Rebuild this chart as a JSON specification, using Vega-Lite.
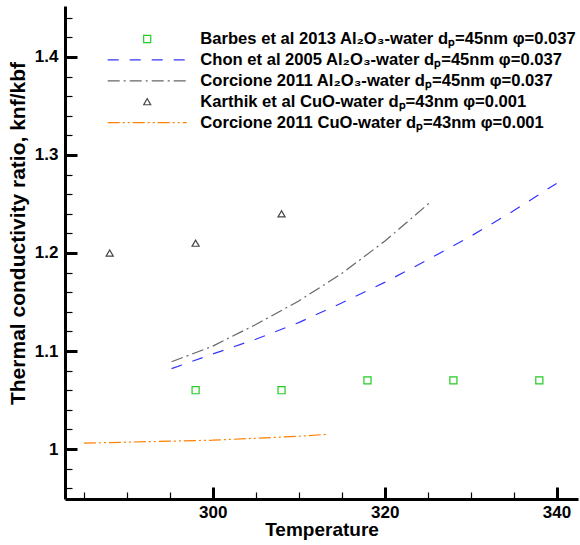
{
  "$schema": "https://vega.github.io/schema/vega-lite/v6.json",
  "autosize": {"type": "none"},
  "padding": {"left": 65, "top": 6, "right": 2, "bottom": 46},
  "width": 513,
  "height": 493,
  "background": "white",
  "config": {
    "view": {"stroke": null},
    "font": "Liberation Sans",
    "axis": {
      "grid": false,
      "domainColor": "black",
      "domainWidth": 3,
      "tickColor": "black",
      "labelFont": "Liberation Sans",
      "labelFontWeight": "bold",
      "labelFontSize": 17,
      "labelColor": "black",
      "titleFont": "Liberation Sans",
      "titleFontWeight": "bold",
      "titleFontSize": 20,
      "titleColor": "black"
    },
    "legend": {
      "labelFont": "Liberation Sans",
      "labelFontWeight": "bold",
      "labelFontSize": 16.6,
      "labelColor": "black",
      "labelLimit": 600
    }
  },
  "data": {
    "values": [
      {"series": "Barbes et al 2013 Al₂O₃-water dₚ=45nm φ=0.037", "T": 298, "k": 1.06},
      {"series": "Barbes et al 2013 Al₂O₃-water dₚ=45nm φ=0.037", "T": 308, "k": 1.06},
      {"series": "Barbes et al 2013 Al₂O₃-water dₚ=45nm φ=0.037", "T": 318, "k": 1.07},
      {"series": "Barbes et al 2013 Al₂O₃-water dₚ=45nm φ=0.037", "T": 328, "k": 1.07},
      {"series": "Barbes et al 2013 Al₂O₃-water dₚ=45nm φ=0.037", "T": 338, "k": 1.07},
      {"series": "Karthik et al CuO-water dₚ=43nm φ=0.001", "T": 288, "k": 1.20},
      {"series": "Karthik et al CuO-water dₚ=43nm φ=0.001", "T": 298, "k": 1.21},
      {"series": "Karthik et al CuO-water dₚ=43nm φ=0.001", "T": 308, "k": 1.24},
      {"series": "Chon et al 2005 Al₂O₃-water dₚ=45nm φ=0.037", "T": 295.2, "k": 1.082},
      {"series": "Chon et al 2005 Al₂O₃-water dₚ=45nm φ=0.037", "T": 300, "k": 1.097},
      {"series": "Chon et al 2005 Al₂O₃-water dₚ=45nm φ=0.037", "T": 305, "k": 1.112},
      {"series": "Chon et al 2005 Al₂O₃-water dₚ=45nm φ=0.037", "T": 310, "k": 1.129},
      {"series": "Chon et al 2005 Al₂O₃-water dₚ=45nm φ=0.037", "T": 315, "k": 1.149},
      {"series": "Chon et al 2005 Al₂O₃-water dₚ=45nm φ=0.037", "T": 320, "k": 1.170},
      {"series": "Chon et al 2005 Al₂O₃-water dₚ=45nm φ=0.037", "T": 325, "k": 1.193},
      {"series": "Chon et al 2005 Al₂O₃-water dₚ=45nm φ=0.037", "T": 330, "k": 1.217},
      {"series": "Chon et al 2005 Al₂O₃-water dₚ=45nm φ=0.037", "T": 335, "k": 1.243},
      {"series": "Chon et al 2005 Al₂O₃-water dₚ=45nm φ=0.037", "T": 340, "k": 1.271},
      {"series": "Corcione 2011 Al₂O₃-water dₚ=45nm φ=0.037", "T": 295.2, "k": 1.089},
      {"series": "Corcione 2011 Al₂O₃-water dₚ=45nm φ=0.037", "T": 300, "k": 1.105},
      {"series": "Corcione 2011 Al₂O₃-water dₚ=45nm φ=0.037", "T": 305, "k": 1.127},
      {"series": "Corcione 2011 Al₂O₃-water dₚ=45nm φ=0.037", "T": 310, "k": 1.151},
      {"series": "Corcione 2011 Al₂O₃-water dₚ=45nm φ=0.037", "T": 315, "k": 1.179},
      {"series": "Corcione 2011 Al₂O₃-water dₚ=45nm φ=0.037", "T": 320, "k": 1.212},
      {"series": "Corcione 2011 Al₂O₃-water dₚ=45nm φ=0.037", "T": 325.2, "k": 1.251},
      {"series": "Corcione 2011 CuO-water dₚ=43nm φ=0.001", "T": 285, "k": 1.006},
      {"series": "Corcione 2011 CuO-water dₚ=43nm φ=0.001", "T": 290, "k": 1.007},
      {"series": "Corcione 2011 CuO-water dₚ=43nm φ=0.001", "T": 295, "k": 1.008},
      {"series": "Corcione 2011 CuO-water dₚ=43nm φ=0.001", "T": 300, "k": 1.009},
      {"series": "Corcione 2011 CuO-water dₚ=43nm φ=0.001", "T": 305, "k": 1.011},
      {"series": "Corcione 2011 CuO-water dₚ=43nm φ=0.001", "T": 310, "k": 1.013},
      {"series": "Corcione 2011 CuO-water dₚ=43nm φ=0.001", "T": 313.3, "k": 1.015}
    ]
  },
  "encoding": {
    "x": {
      "field": "T", "type": "quantitative",
      "scale": {"domain": [282.8, 342.5], "nice": false, "zero": false},
      "axis": {
        "title": "Temperature",
        "titleFontSize": 19,
        "values": [285, 290, 295, 300, 305, 310, 315, 320, 325, 330, 335, 340],
        "labelExpr": "datum.value % 20 === 0 ? datum.label : ''",
        "tickSize": {"condition": {"test": "datum.value % 20 === 0", "value": -12}, "value": -7},
        "tickWidth": {"condition": {"test": "datum.value % 20 === 0", "value": 3}, "value": 1.2},
        "labelPadding": 17,
        "labelFlush": false,
        "titlePadding": 0
      }
    },
    "y": {
      "field": "k", "type": "quantitative",
      "scale": {"domain": [0.949, 1.452], "nice": false, "zero": false},
      "axis": {
        "title": "Thermal conductivity ratio, knf/kbf",
        "titleFontSize": 21,
        "titleY": 227,
        "values": [0.96, 0.98, 1.0, 1.02, 1.04, 1.06, 1.08, 1.1, 1.12, 1.14, 1.16, 1.18, 1.2, 1.22, 1.24, 1.26, 1.28, 1.3, 1.32, 1.34, 1.36, 1.38, 1.4, 1.42, 1.44],
        "labelExpr": "abs(datum.value*10 - round(datum.value*10)) < 1e-6 ? format(datum.value, '.1~f') : ''",
        "tickSize": {"condition": {"test": "abs(datum.value*10 - round(datum.value*10)) < 1e-6", "value": -12}, "value": -7},
        "tickWidth": {"condition": {"test": "abs(datum.value*10 - round(datum.value*10)) < 1e-6", "value": 3}, "value": 1.2},
        "labelPadding": 19,
        "labelFlush": false,
        "titlePadding": 6
      }
    },
    "color": {
      "field": "series", "type": "nominal",
      "scale": {
        "domain": [
          "Barbes et al 2013 Al₂O₃-water dₚ=45nm φ=0.037",
          "Chon et al 2005 Al₂O₃-water dₚ=45nm φ=0.037",
          "Corcione 2011 Al₂O₃-water dₚ=45nm φ=0.037",
          "Karthik et al CuO-water dₚ=43nm φ=0.001",
          "Corcione 2011 CuO-water dₚ=43nm φ=0.001"
        ],
        "range": ["#22cc22", "#3333ff", "#666666", "#444444", "#ff8000"]
      },
      "legend": {
        "title": null,
        "orient": "none",
        "legendX": 41.7,
        "legendY": 23.5,
        "padding": 0,
        "clipHeight": 19,
        "rowPadding": 1.9,
        "labelOffset": 12.6,
        "symbolStrokeWidth": 1.2
      }
    }
  },
  "layer": [
    {
      "transform": [{"filter": "indexof(datum.series, 'Barbes') === 0 || indexof(datum.series, 'Karthik') === 0"}],
      "mark": {"type": "point", "filled": false, "strokeWidth": 1.2, "opacity": 1},
      "encoding": {
        "shape": {
          "field": "series", "type": "nominal",
          "scale": {
            "domain": [
              "Barbes et al 2013 Al₂O₃-water dₚ=45nm φ=0.037",
              "Chon et al 2005 Al₂O₃-water dₚ=45nm φ=0.037",
              "Corcione 2011 Al₂O₃-water dₚ=45nm φ=0.037",
              "Karthik et al CuO-water dₚ=43nm φ=0.001",
              "Corcione 2011 CuO-water dₚ=43nm φ=0.001"
            ],
            "range": ["square", "stroke", "stroke", "triangle-up", "stroke"]
          }
        },
        "size": {
          "field": "series", "type": "nominal",
          "scale": {
            "type": "ordinal",
            "domain": [
              "Barbes et al 2013 Al₂O₃-water dₚ=45nm φ=0.037",
              "Chon et al 2005 Al₂O₃-water dₚ=45nm φ=0.037",
              "Corcione 2011 Al₂O₃-water dₚ=45nm φ=0.037",
              "Karthik et al CuO-water dₚ=43nm φ=0.001",
              "Corcione 2011 CuO-water dₚ=43nm φ=0.001"
            ],
            "range": [50, 6241, 6241, 50, 6241]
          }
        }
      }
    },
    {
      "transform": [{"filter": "!(indexof(datum.series, 'Barbes') === 0 || indexof(datum.series, 'Karthik') === 0)"}],
      "mark": {"type": "line", "strokeWidth": 1.2},
      "encoding": {
        "strokeDash": {
          "field": "series", "type": "nominal",
          "scale": {
            "domain": [
              "Barbes et al 2013 Al₂O₃-water dₚ=45nm φ=0.037",
              "Chon et al 2005 Al₂O₃-water dₚ=45nm φ=0.037",
              "Corcione 2011 Al₂O₃-water dₚ=45nm φ=0.037",
              "Karthik et al CuO-water dₚ=43nm φ=0.001",
              "Corcione 2011 CuO-water dₚ=43nm φ=0.001"
            ],
            "range": [[1, 0], [11, 11], [12, 4, 2, 4], [1, 0], [12, 3, 2, 3, 2, 3]]
          }
        }
      }
    }
  ]
}
